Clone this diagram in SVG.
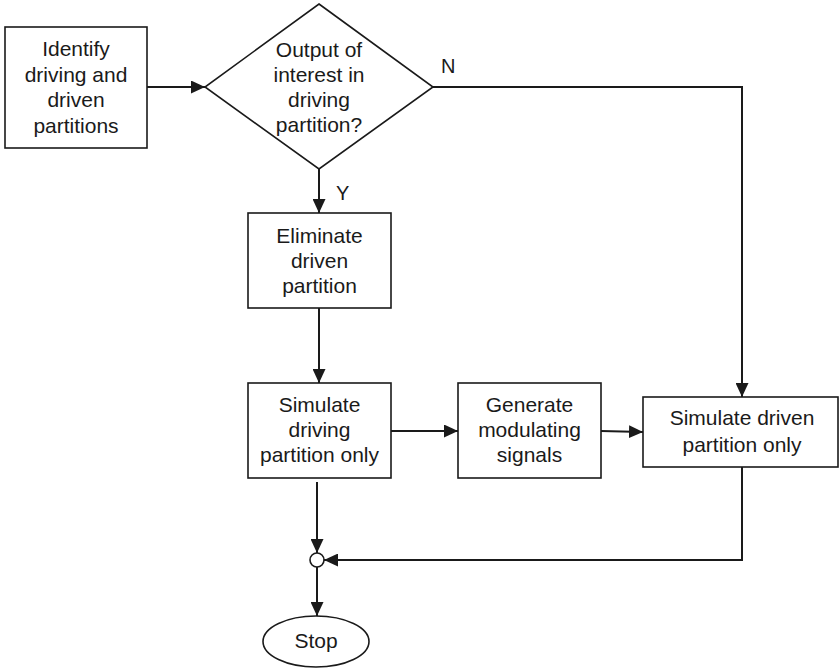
<svg xmlns="http://www.w3.org/2000/svg" width="839" height="668" viewBox="0 0 839 668">
  <style>
    .shape { fill: #ffffff; stroke: #1a1a1a; stroke-width: 1.6; }
    .edge { fill: none; stroke: #1a1a1a; stroke-width: 2; }
    text { font-family: "Liberation Sans", Arial, sans-serif; font-size: 21px; fill: #1a1a1a; text-anchor: middle; }
    .lbl { text-anchor: start; font-size: 20px; }
  </style>
  <defs>
    <marker id="arrow" markerWidth="15" markerHeight="13" refX="14" refY="6.5" orient="auto" markerUnits="userSpaceOnUse">
      <path d="M0,0 L14,6.5 L0,13 Z" fill="#1a1a1a"/>
    </marker>
  </defs>

  <g id="connectors">
    <line class="edge" x1="147" y1="87" x2="205" y2="87" marker-end="url(#arrow)"/>
    <line class="edge" x1="319" y1="169" x2="319" y2="213" marker-end="url(#arrow)"/>
    <polyline class="edge" points="433,87 742,87 742,397" marker-end="url(#arrow)"/>
    <line class="edge" x1="319" y1="308" x2="319" y2="383" marker-end="url(#arrow)"/>
    <line class="edge" x1="391" y1="431" x2="458" y2="431" marker-end="url(#arrow)"/>
    <line class="edge" x1="601" y1="431" x2="643" y2="432" marker-end="url(#arrow)"/>
    <line class="edge" x1="317" y1="482" x2="317" y2="553" marker-end="url(#arrow)"/>
    <polyline class="edge" points="742,467 742,560 324,560" marker-end="url(#arrow)"/>
    <line class="edge" x1="317" y1="567" x2="317" y2="616" marker-end="url(#arrow)"/>
    <text class="lbl" x="336" y="200">Y</text>
    <text class="lbl" x="441" y="73">N</text>
  </g>

  <g id="identify">
    <rect class="shape" x="5" y="27" width="142" height="121"/>
    <text x="76" y="56">Identify</text>
    <text x="76" y="82">driving and</text>
    <text x="76" y="107">driven</text>
    <text x="76" y="133">partitions</text>
  </g>

  <g id="decision">
    <polygon class="shape" points="319,4 433,87 319,169 205,87"/>
    <text x="319" y="57">Output of</text>
    <text x="319" y="82">interest in</text>
    <text x="319" y="107">driving</text>
    <text x="319" y="132">partition?</text>
  </g>

  <g id="eliminate">
    <rect class="shape" x="248" y="213" width="143" height="95"/>
    <text x="319.5" y="243">Eliminate</text>
    <text x="319.5" y="268">driven</text>
    <text x="319.5" y="293">partition</text>
  </g>

  <g id="simulate-driving">
    <rect class="shape" x="248" y="383" width="143" height="95"/>
    <text x="319.5" y="412">Simulate</text>
    <text x="319.5" y="437">driving</text>
    <text x="319.5" y="462">partition only</text>
  </g>

  <g id="generate">
    <rect class="shape" x="458" y="383" width="143" height="95"/>
    <text x="529.5" y="412">Generate</text>
    <text x="529.5" y="437">modulating</text>
    <text x="529.5" y="462">signals</text>
  </g>

  <g id="simulate-driven">
    <rect class="shape" x="643" y="397" width="195" height="70"/>
    <text x="742" y="425">Simulate driven</text>
    <text x="742" y="452">partition only</text>
  </g>

  <g id="junction">
    <circle class="shape" cx="317" cy="560" r="7"/>
  </g>

  <g id="stop">
    <ellipse class="shape" cx="316" cy="641.5" rx="53" ry="25.5"/>
    <text x="316" y="648">Stop</text>
  </g>
</svg>
